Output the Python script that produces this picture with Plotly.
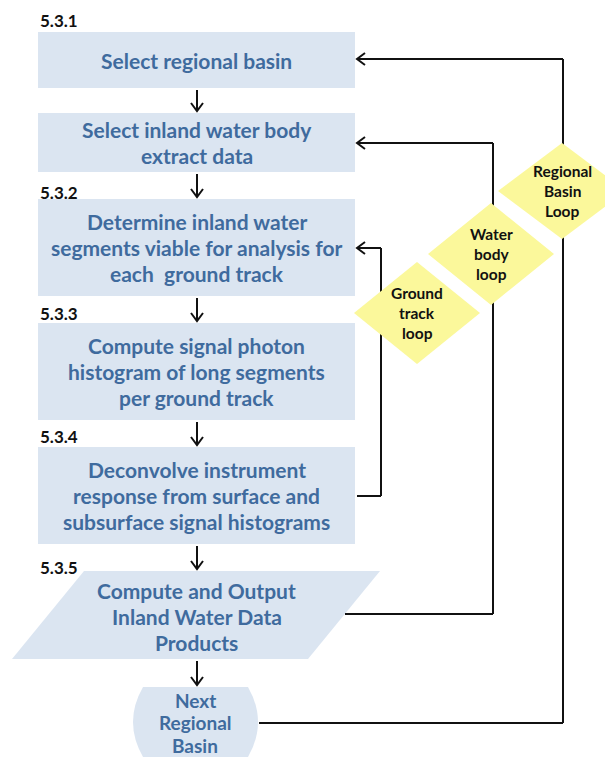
import plotly.graph_objects as go

# ---- content ----
step_labels = ["5.3.1", "5.3.2", "5.3.3", "5.3.4", "5.3.5"]
box_texts = [
    ["Select regional basin"],
    ["Select inland water body", "extract data"],
    ["Determine inland water", "segments viable for analysis for", "each  ground track"],
    ["Compute signal photon", "histogram of long segments", "per ground track"],
    ["Deconvolve instrument", "response from surface and", "subsurface signal histograms"],
]
output_text = ["Compute and Output", "Inland Water Data", "Products"]
next_text = ["Next", "Regional", "Basin"]
loop_texts = [
    ["Regional", "Basin", "Loop"],
    ["Water", "body", "loop"],
    ["Ground", "track", "loop"],
]

# ---- layout (page pixel coordinates) ----
W, H = 613, 757
OFF = 8  # default page body margin
BOX_X0, BOX_X1 = 38, 355
CX = 196.5
box_y = [(32, 88), (113, 172), (199, 296), (323, 420), (447, 544)]
label_y = [20, 192, 313, 436, 567]
para = dict(y0=571, y1=659, top=(84, 380), bot=(12, 308))
nxt = dict(x0=143, x1=248, y0=687, y1=757, bulge=20)
diamonds = [  # cx, cy, half-w, half-h
    (562, 191, 64, 48),
    (491, 254, 63, 51),
    (417, 313, 63, 51),
]
loops = [  # vertical x, top y (arrow into box), bottom y, start x at bottom
    (563, 59, 723, 259),
    (493, 143, 614, 345),
    (381, 248, 496, 357),
]

BOX_FILL = "#dbe5f1"
TEXT_BLUE = "#3f6b9e"
DIA_FILL = "#fbf89b"
LINE = "#111111"
FONT = "Lato"
LS = 26  # line spacing for box text

fig = go.Figure()
shapes, annos = [], []


def add_lines(lines, cx, cy, size, color, spacing):
    n = len(lines)
    for i, t in enumerate(lines):
        annos.append(dict(x=cx, y=cy + (i - (n - 1) / 2) * spacing, text="<b>%s</b>" % t,
                          showarrow=False, xref="x", yref="y",
                          font=dict(family=FONT, size=size, color=color),
                          xanchor="center", yanchor="middle"))


def line(x0, y0, x1, y1):
    shapes.append(dict(type="line", x0=x0, y0=y0, x1=x1, y1=y1, xref="x", yref="y",
                       line=dict(color=LINE, width=2)))


def down_arrow(x, y0, y1):
    line(x, y0, x, y1)
    shapes.append(dict(type="path", path="M %f,%f L %f,%f L %f,%f" % (x - 6, y1 - 8, x, y1, x + 6, y1 - 8),
                       xref="x", yref="y", line=dict(color=LINE, width=2)))


def left_head(x, y):
    shapes.append(dict(type="path", path="M %f,%f L %f,%f L %f,%f" % (x + 8, y - 6, x, y, x + 8, y + 6),
                       xref="x", yref="y", line=dict(color=LINE, width=2)))


# boxes
for (y0, y1), txt in zip(box_y, box_texts):
    shapes.append(dict(type="rect", x0=BOX_X0, x1=BOX_X1, y0=y0, y1=y1, xref="x", yref="y",
                       fillcolor=BOX_FILL, line=dict(width=0), layer="below"))
    add_lines(txt, CX, (y0 + y1) / 2, 21, TEXT_BLUE, LS)

# parallelogram
p = para
shapes.append(dict(type="path", xref="x", yref="y", fillcolor=BOX_FILL, line=dict(width=0), layer="below",
                   path="M %f,%f L %f,%f L %f,%f L %f,%f Z" % (p["top"][0], p["y0"], p["top"][1], p["y0"],
                                                           p["bot"][1], p["y1"], p["bot"][0], p["y1"])))
add_lines(output_text, CX, (p["y0"] + p["y1"]) / 2 + 1, 21, TEXT_BLUE, LS)

# next regional basin terminator
n = nxt
cy = (n["y0"] + n["y1"]) / 2
shapes.append(dict(type="path", xref="x", yref="y", fillcolor=BOX_FILL, line=dict(width=0), layer="below",
                   path="M %f,%f L %f,%f Q %f,%f %f,%f L %f,%f Q %f,%f %f,%f Z" % (
                       n["x0"], n["y0"], n["x1"], n["y0"], n["x1"] + n["bulge"], cy, n["x1"], n["y1"],
                       n["x0"], n["y1"], n["x0"] - n["bulge"], cy, n["x0"], n["y0"])))
add_lines(next_text, 195, cy + 0.5, 19, TEXT_BLUE, 22.5)

# step labels
for lab, y in zip(step_labels, label_y):
    annos.append(dict(x=BOX_X0, y=y, text="<b>%s</b>" % lab, showarrow=False, xref="x", yref="y",
                      font=dict(family=FONT, size=17, color="#111111"), xanchor="left", yanchor="middle"))

# down arrows between stages
tops = [b[1] for b in box_y] + [p["y1"]]
bottoms = [b[0] for b in box_y[1:]] + [p["y0"], n["y0"]]
for t, b in zip(tops, bottoms):
    down_arrow(CX + 0.5, t + 2, b - 2)

# loops
for vx, ty, by, sx in loops:
    line(sx, by, vx, by)
    line(vx, by, vx, ty)
    line(vx, ty, 357, ty)
    left_head(357, ty)

# diamonds
for (dx, dy, hw, hh), txt in zip(diamonds, loop_texts):
    shapes.append(dict(type="path", xref="x", yref="y", fillcolor=DIA_FILL, line=dict(width=0), layer="above",
                       path="M %f,%f L %f,%f L %f,%f L %f,%f Z" % (dx, dy - hh, dx + hw, dy, dx, dy + hh, dx - hw, dy)))
    add_lines(txt, dx, dy, 15.5, "#111111", 20)

fig.update_layout(
    width=W - OFF, height=H - OFF, autosize=False, margin=dict(l=0, r=0, t=0, b=0, pad=0),
    paper_bgcolor="white", plot_bgcolor="white",
    xaxis=dict(range=[OFF, W], visible=False, fixedrange=True),
    yaxis=dict(range=[H, OFF], visible=False, fixedrange=True),
    shapes=shapes, annotations=annos, showlegend=False,
)
fig.write_html("out.html", config={"displayModeBar": False})
